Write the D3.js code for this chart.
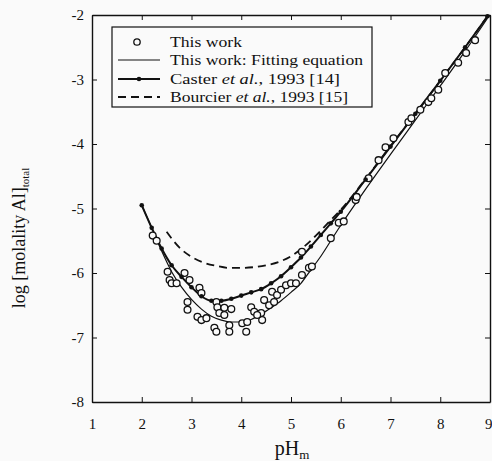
<!DOCTYPE html>
<html>
<head>
<meta charset="utf-8">
<script src="https://cdn.jsdelivr.net/npm/d3@7"></script>
<style>
  body { margin: 0; background: #fafafa; }
  svg { display: block; font-family: "Liberation Serif", "DejaVu Serif", serif; }
  .axis path, .axis line { stroke: #111; }
  .axis text { fill: #111; font-size: 15px; }
</style>
</head>
<body>
<div id="chart"></div>
<script>
// measured points, This work (pH_m, log m Al)
var workPH = [2.22, 2.3, 2.52, 2.56, 2.6, 2.7, 2.86, 2.96, 3.16, 3.2, 2.92, 2.92, 3.12, 3.2, 3.3,
  3.46, 3.5, 3.5, 3.52, 3.66, 3.8, 3.56, 3.66, 3.76, 3.76, 4.1, 4.02, 4.12, 4.2, 4.26,
  4.42, 4.4, 4.32, 4.46, 4.56, 4.66, 4.62, 4.72, 4.8, 4.9, 5.0, 5.1, 5.22, 5.36, 5.42,
  5.22, 5.8, 5.96, 6.06, 6.3, 6.32, 6.56, 6.76, 6.9, 7.06, 7.36, 7.42, 7.6, 7.76, 7.82,
  7.96, 8.1, 8.36, 8.52, 8.7];
var workLog = [-5.42, -5.5, -5.98, -6.11, -6.16, -6.16, -6.0, -6.11, -6.23, -6.31, -6.45, -6.57, -6.68, -6.73, -6.7,
  -6.85, -6.91, -6.45, -6.53, -6.54, -6.56, -6.62, -6.65, -6.81, -6.91, -6.91, -6.78, -6.76, -6.53, -6.6,
  -6.73, -6.62, -6.65, -6.42, -6.5, -6.45, -6.29, -6.34, -6.26, -6.19, -6.16, -6.16, -6.03, -5.92, -5.9,
  -5.67, -5.46, -5.22, -5.2, -4.87, -4.82, -4.53, -4.25, -4.05, -3.91, -3.66, -3.6, -3.47, -3.35, -3.29,
  -3.16, -2.9, -2.74, -2.59, -2.39];

// This work: fitting equation
var fitPH = [2.0, 2.2, 2.4, 2.6, 2.8, 3.0, 3.2, 3.4, 3.6, 3.8, 4.0, 4.2, 4.4, 4.6, 4.8, 5.0, 5.2, 5.4, 5.6, 5.8, 6.0, 6.5, 7.0, 7.5, 8.0, 8.5, 8.95];
var fitLog = [-4.95, -5.3, -5.66, -5.98, -6.22, -6.41, -6.56, -6.67, -6.73, -6.76, -6.76, -6.72, -6.64, -6.54, -6.43, -6.3, -6.16, -5.95, -5.74, -5.5, -5.26, -4.7, -4.16, -3.63, -3.1, -2.56, -2.05];

// Caster et al., 1993
var casterPH = [2.0, 2.2, 2.4, 2.6, 2.8, 3.0, 3.2, 3.4, 3.6, 3.8, 4.0, 4.2, 4.4, 4.6, 4.8, 5.0, 5.2, 5.4, 5.6, 5.8, 6.0, 6.5, 7.0, 7.5, 8.0, 8.5, 8.95];
var casterLog = [-4.95, -5.3, -5.62, -5.88, -6.06, -6.22, -6.36, -6.43, -6.43, -6.4, -6.35, -6.3, -6.25, -6.16, -6.05, -5.91, -5.76, -5.59, -5.41, -5.23, -5.05, -4.55, -4.04, -3.53, -3.02, -2.5, -2.02];

// Bourcier et al., 1993
var bourPH = [2.5, 2.75, 3.0, 3.25, 3.5, 3.75, 4.0, 4.25, 4.5, 4.75, 5.0, 5.25, 5.5, 5.75, 6.0, 6.5, 7.0, 7.5, 8.0, 8.5, 8.95];
var bourLog = [-5.36, -5.6, -5.75, -5.84, -5.89, -5.92, -5.92, -5.91, -5.88, -5.83, -5.74, -5.6, -5.42, -5.22, -5.02, -4.54, -4.03, -3.53, -3.02, -2.5, -2.02];

var xTicks = [1, 2, 3, 4, 5, 6, 7, 8, 9];
var yTicks = [-2, -3, -4, -5, -6, -7, -8];

var width = 492, height = 461;
var margin = { top: 15, right: 2, bottom: 59, left: 92 };
var serif = "'Liberation Serif', 'DejaVu Serif', serif";

var svg = d3.select("#chart").append("svg")
    .attr("width", width)
    .attr("height", height);

var x = d3.scaleLinear().domain([1, 9]).range([margin.left, width - margin.right]);
var y = d3.scaleLinear().domain([-8, -2]).range([height - margin.bottom, margin.top]);

var zip = function (xs, ys) {
    return xs.map(function (v, i) { return [v, ys[i]]; });
};

var line = d3.line()
    .x(function (d) { return x(d[0]); })
    .y(function (d) { return y(d[1]); })
    .curve(d3.curveMonotoneX);

// frame + ticks
var bottom = svg.append("g").attr("class", "axis")
    .attr("transform", "translate(0," + y(-8) + ")")
    .call(d3.axisBottom(x).tickValues(xTicks).tickSize(-5).tickPadding(16).tickSizeOuter(0))
    .attr("font-family", serif);
bottom.select(".domain").attr("stroke-width", 1.6);
// last label sits on the page edge, keep it inside
bottom.selectAll(".tick text")
    .filter(function (d) { return d === 9; })
    .attr("text-anchor", "end")
    .attr("dx", 2);

svg.append("g").attr("class", "axis")
    .attr("transform", "translate(0," + y(-2) + ")")
    .call(d3.axisTop(x).tickValues(xTicks).tickSize(-5).tickSizeOuter(0).tickFormat(""))
    .select(".domain").attr("stroke-width", 1.6);
svg.append("g").attr("class", "axis")
    .attr("transform", "translate(" + x(1) + ",0)")
    .call(d3.axisLeft(y).tickValues(yTicks).tickSize(-5).tickPadding(8).tickSizeOuter(0)
        .tickFormat(function (d) { return String(d); }))
    .attr("font-family", serif)
    .select(".domain").attr("stroke-width", 1.4);
svg.append("g").attr("class", "axis")
    .attr("transform", "translate(" + x(9) + ",0)")
    .call(d3.axisRight(y).tickValues(yTicks).tickSize(-5).tickSizeOuter(0).tickFormat(""))
    .select(".domain").attr("stroke-width", 1.4);

// curves
svg.append("path")
    .datum(zip(bourPH, bourLog))
    .attr("d", line)
    .attr("fill", "none")
    .attr("stroke", "#111")
    .attr("stroke-width", 1.8)
    .attr("stroke-dasharray", "8,5");

svg.append("path")
    .datum(zip(fitPH, fitLog))
    .attr("d", line)
    .attr("fill", "none")
    .attr("stroke", "#111")
    .attr("stroke-width", 1.2);

svg.append("path")
    .datum(zip(casterPH, casterLog))
    .attr("d", line)
    .attr("fill", "none")
    .attr("stroke", "#111")
    .attr("stroke-width", 2);

svg.append("g").selectAll("circle")
    .data(zip(workPH, workLog))
    .join("circle")
    .attr("cx", function (d) { return x(d[0]); })
    .attr("cy", function (d) { return y(d[1]); })
    .attr("r", 3.4)
    .attr("fill", "#fafafa")
    .attr("stroke", "#111")
    .attr("stroke-width", 1.3);

svg.append("g").selectAll("circle")
    .data(zip(casterPH, casterLog))
    .join("circle")
    .attr("cx", function (d) { return x(d[0]); })
    .attr("cy", function (d) { return y(d[1]); })
    .attr("r", 2.3)
    .attr("fill", "#111");

// axis titles
var xt = svg.append("text")
    .attr("x", 292).attr("y", 455)
    .attr("text-anchor", "middle")
    .attr("font-size", 20)
    .attr("fill", "#111");
xt.append("tspan").text("pH");
xt.append("tspan").attr("font-size", 13).attr("dy", 4).text("m");

var yt = svg.append("text")
    .attr("transform", "translate(25,238) rotate(-90)")
    .attr("text-anchor", "middle")
    .attr("font-size", 18)
    .attr("fill", "#111");
yt.append("tspan").text("log [molality Al]");
yt.append("tspan").attr("font-size", 11).attr("dy", 4).text("total");

// legend
var lg = svg.append("g");
lg.append("rect")
    .attr("x", 112).attr("y", 27)
    .attr("width", 260).attr("height", 80)
    .attr("fill", "#fafafa")
    .attr("stroke", "#111")
    .attr("stroke-width", 1.2);

var rowY = [42, 60, 79, 97];
var labels = [
    [["This work", false]],
    [["This work: Fitting equation", false]],
    [["Caster ", false], ["et al.", true], [", 1993 [14]", false]],
    [["Bourcier ", false], ["et al.", true], [", 1993 [15]", false]]
];
var labelW = [72, 193, 170, 178];

labels.forEach(function (parts, i) {
    var t = lg.append("text")
        .attr("x", 170).attr("y", rowY[i] + 5)
        .attr("font-size", 14)
        .attr("fill", "#111")
        .attr("textLength", labelW[i])
        .attr("lengthAdjust", "spacingAndGlyphs");
    parts.forEach(function (p) {
        t.append("tspan").attr("font-style", p[1] ? "italic" : "normal").text(p[0]);
    });
});

lg.append("circle").attr("cx", 137).attr("cy", rowY[0]).attr("r", 3.2)
    .attr("fill", "#fafafa").attr("stroke", "#111").attr("stroke-width", 1.3);
lg.append("line").attr("x1", 118).attr("x2", 160).attr("y1", rowY[1]).attr("y2", rowY[1])
    .attr("stroke", "#111").attr("stroke-width", 1.2);
lg.append("line").attr("x1", 118).attr("x2", 160).attr("y1", rowY[2]).attr("y2", rowY[2])
    .attr("stroke", "#111").attr("stroke-width", 2);
lg.append("circle").attr("cx", 139).attr("cy", rowY[2]).attr("r", 2.3).attr("fill", "#111");
lg.append("line").attr("x1", 118).attr("x2", 160).attr("y1", rowY[3]).attr("y2", rowY[3])
    .attr("stroke", "#111").attr("stroke-width", 1.8).attr("stroke-dasharray", "8,5");
</script>
</body>
</html>
